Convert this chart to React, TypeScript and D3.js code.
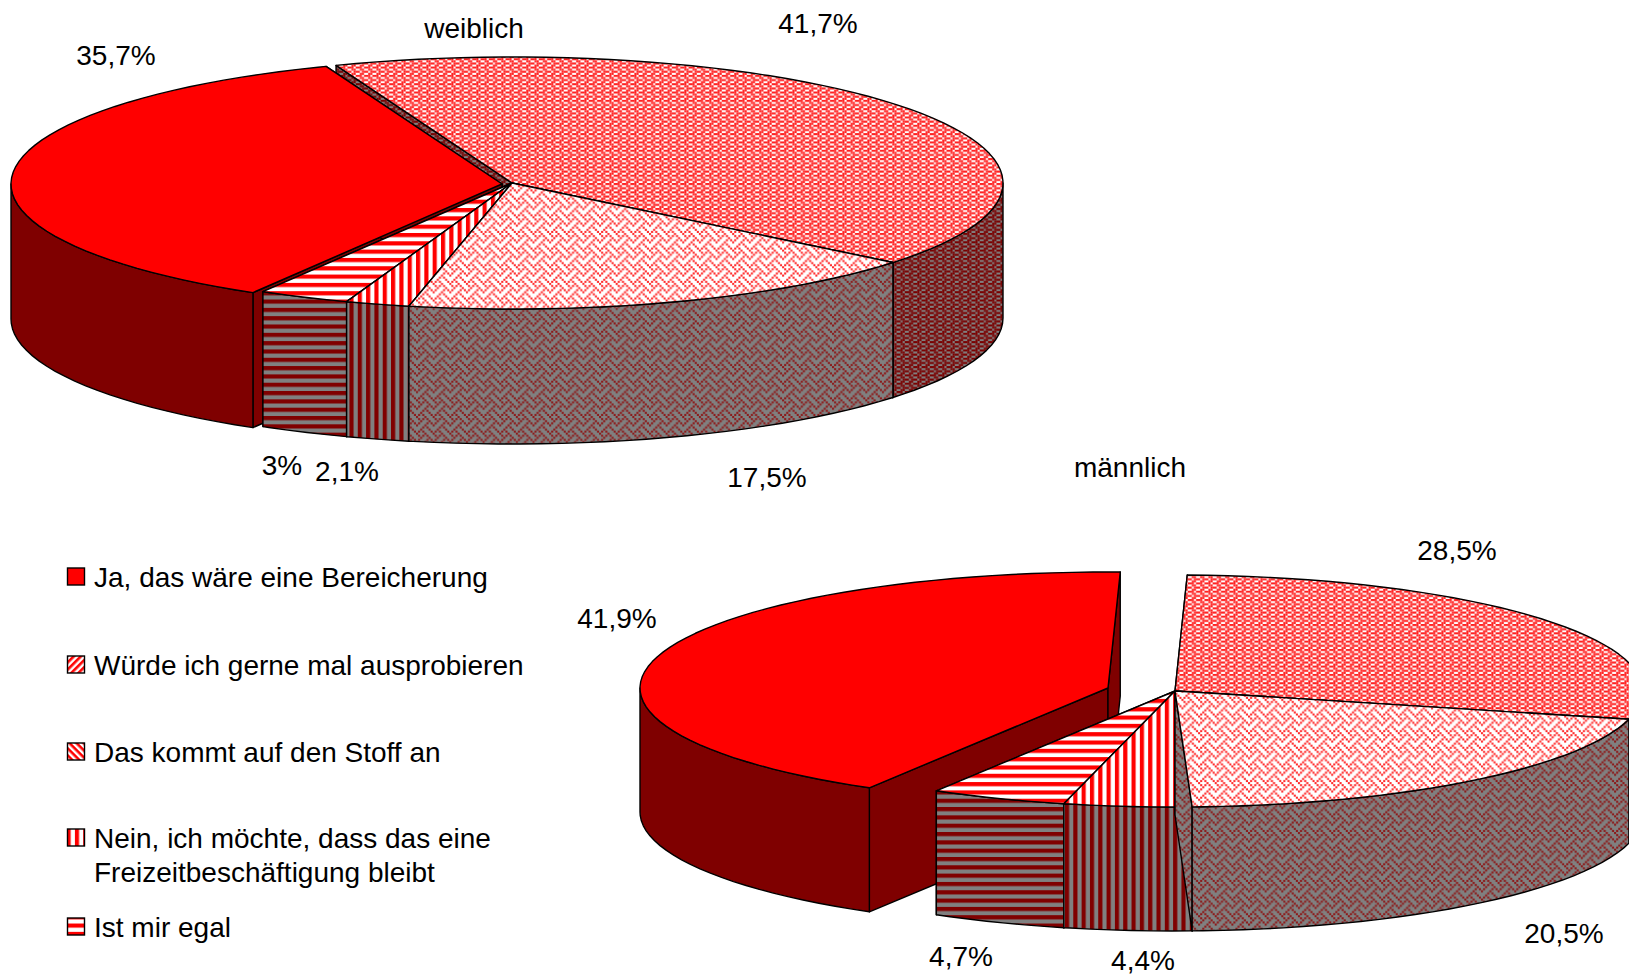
import React from "react";
import * as d3 from "d3";

const categories = [
  "Ja, das wäre eine Bereicherung",
  "Würde ich gerne mal ausprobieren",
  "Das kommt auf den Stoff an",
  "Nein, ich möchte, dass das eine|Freizeitbeschäftigung bleibt",
  "Ist mir egal",
];
// Clockwise order as drawn, starting from the top: Würde, Das kommt, Nein, Egal, Ja
const weiblichValues = [41.7, 17.5, 2.1, 3, 35.7];
const maennlichValues = [28.5, 20.5, 4.4, 4.7, 41.9];
const sliceKinds = ["check", "weave", "vert", "horiz", "solid"];
const drawOrder = [0, 4, 3, 2, 1];

const weave = ["10001000", "01010100", "00100010", "01000101", "10001000", "00010100", "00100010", "01010001"];
const check = ["1101", "0110", "1011", "0110"];

const TOP_BG = "#ffffff", TOP_FG = "#ff2a2a", WALL_BG = "#808080", WALL_FG = "#8c1a1a";

function bitmap(id: string, rows: string[], bg: string, fg: string) {
  const n = rows.length, c = 2.08;
  return (
    <pattern key={id} id={id} width={n * c} height={n * c} patternUnits="userSpaceOnUse">
      <rect width={n * c} height={n * c} fill={bg} />
      {rows.flatMap((r, y) =>
        r.split("").map((b, x) => (b === "1" ? <rect key={x + "-" + y} x={x * c} y={y * c} width={c} height={c} fill={fg} /> : null))
      )}
    </pattern>
  );
}
function stripes(id: string, vertical: boolean, bg: string, fg: string) {
  const p = 8.32;
  return (
    <pattern key={id} id={id} width={p} height={p} patternUnits="userSpaceOnUse">
      <rect width={p} height={p} fill={bg} />
      <rect width={vertical ? p / 2 : p} height={vertical ? p : p / 2} fill={fg} />
    </pattern>
  );
}
function diag(id: string, angle: number) {
  return (
    <pattern key={id} id={id} width={5} height={5} patternUnits="userSpaceOnUse" patternTransform={`rotate(${angle})`}>
      <rect width={5} height={5} fill="#fff" />
      <rect width={5} height={2.6} fill="#f00" />
    </pattern>
  );
}

type Pie3D = { values: number[]; cx: number; cy: number; rx: number; ry: number; depth: number; start: number; explode: [number, number] };
const pies: Pie3D[] = [
  { values: weiblichValues, cx: 512, cy: 183, rx: 491, ry: 126, depth: 135, start: -21, explode: [-10, 1] },
  { values: maennlichValues, cx: 1175, cy: 691, rx: 468, ry: 116, depth: 124, start: 1.5, explode: [-67, -3] },
];

const line = d3.line<[number, number]>().x((d) => d[0]).y((d) => d[1]);
const rad = Math.PI / 180;

function PieChart({ p }: { p: Pie3D }) {
  const arcs = d3.pie<number>().sort(null).value((d) => d)
    .startAngle(p.start * rad).endAngle((p.start + 360) * rad)(p.values);
  const pt = (deg: number, ox: number, oy: number): [number, number] => [
    p.cx + ox + p.rx * Math.sin(deg * rad),
    p.cy + oy - p.ry * Math.cos(deg * rad),
  ];
  return (
    <g stroke="#000" strokeWidth={1.4} strokeLinejoin="round">
      {drawOrder.map((i) => {
        const a = arcs[i];
        const s = a.startAngle / rad, e = a.endAngle / rad;
        const kind = sliceKinds[i];
        const [ox, oy] = kind === "solid" ? p.explode : [0, 0];
        const apex: [number, number] = [p.cx + ox, p.cy + oy];
        const topFill = kind === "solid" ? "#ff0000" : `url(#top-${kind})`;
        const wallFill = kind === "solid" ? "#7f0000" : `url(#wall-${kind})`;
        const samples = d3.range(s, e, 2.5).concat([e]);
        const rim = samples.map((d) => pt(d, ox, oy));
        const down = (q: [number, number]): [number, number] => [q[0], q[1] + p.depth];
        // visible outer wall, the part of the rim that faces the viewer
        const loV = Math.max(s, 90), hiV = Math.min(e, 270);
        const norm = (d: number) => d;
        let wall = "";
        const ss = s + 360, ee = e + 360;
        const [lo, hi] = hiV > loV ? [loV, hiV] : [Math.max(ss, 90), Math.min(ee, 270)];
        if (hi > lo) {
          const w = d3.range(norm(lo), hi, 2.5).concat([hi]).map((d) => pt(d, ox, oy));
          wall = line(w.concat(w.slice().reverse().map(down)))! + "Z";
        }
        const inner = (q: [number, number]) => line([apex, q, down(q), down(apex)])! + "Z";
        return (
          <g key={i}>
            <path d={inner(rim[0])} fill={wallFill} />
            <path d={inner(rim[rim.length - 1])} fill={wallFill} />
            {wall && <path d={wall} fill={wallFill} />}
            <path d={line([apex, ...rim])! + "Z"} fill={topFill} />
          </g>
        );
      })}
    </g>
  );
}

const labels: [string, number, number][] = [
  ["weiblich", 474, 28], ["41,7%", 818, 23], ["35,7%", 116, 55], ["3%", 282, 465], ["2,1%", 347, 471], ["17,5%", 767, 477],
  ["männlich", 1130, 467], ["28,5%", 1457, 550], ["41,9%", 617, 618], ["20,5%", 1564, 933], ["4,7%", 961, 956], ["4,4%", 1143, 960],
];
const legendY = [577, 665, 752, 838, 927];
const legendFills = ["#ff0000", "url(#lg-up)", "url(#lg-down)", "url(#top-vert-lg)", "url(#top-horiz-lg)"];
const FONT = "'Liberation Sans', Arial, sans-serif";

export default function App() {
  return (
    <svg width={1629} height={975} style={{ position: "fixed", left: 0, top: 0, background: "#fff" }} fontFamily={FONT}>
      <defs>
        {bitmap("top-check", check, TOP_BG, "#ff2020")}
        {bitmap("wall-check", check, WALL_BG, "#7a0000")}
        {bitmap("top-weave", weave, TOP_BG, TOP_FG)}
        {bitmap("wall-weave", weave, WALL_BG, WALL_FG)}
        {stripes("top-vert", true, "#fff", "#f00")}
        {stripes("wall-vert", true, WALL_BG, "#800000")}
        {stripes("top-horiz", false, "#fff", "#f00")}
        {stripes("wall-horiz", false, WALL_BG, "#800000")}
        {stripes("top-vert-lg", true, "#fff", "#f00")}
        {stripes("top-horiz-lg", false, "#fff", "#f00")}
        {diag("lg-up", -45)}
        {diag("lg-down", 45)}
      </defs>
      {pies.map((p, i) => <PieChart key={i} p={p} />)}
      {labels.map(([t, x, y]) => (
        <text key={t} x={x} y={y} textAnchor="middle" dominantBaseline="central" fontSize={28} fill="#000">{t}</text>
      ))}
      {categories.map((c, i) => (
        <g key={c}>
          <rect x={67.5} y={legendY[i] - 9} width={17} height={17} fill={legendFills[i]} stroke="#000" strokeWidth={1.4} />
          {c.split("|").map((l, j, arr) => (
            <text key={j} x={94} y={legendY[i] + (j - (arr.length - 1) / 2 * 0) * 34} dominantBaseline="central" fontSize={28} fill="#000">{l}</text>
          ))}
        </g>
      ))}
    </svg>
  );
}
